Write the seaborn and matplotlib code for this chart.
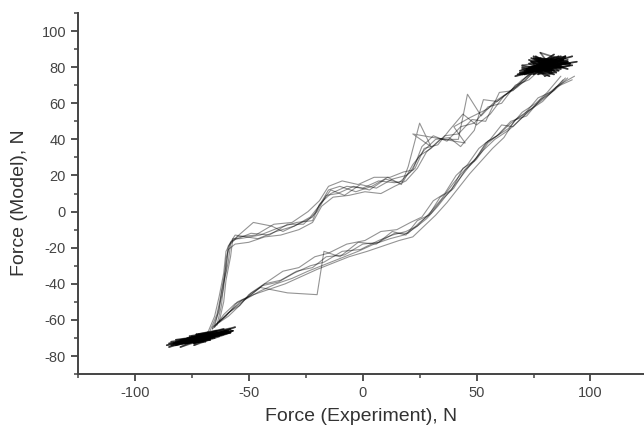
import numpy as np
import pandas as pd
import seaborn as sns
import matplotlib.pyplot as plt
from matplotlib.ticker import MultipleLocator

# rising branch of the loop, one list per cycle
upper_x = [
    [-66, -63, -62, -60, -59, -57, -49, -41, -33, -26, -20, -16, -11, -4, 3, 10, 16, 21, 25, 30, 36, 42, 48, 54, 60, 66, 72, 78],
    [-64, -62, -61, -59, -58, -55, -47, -39, -31, -24, -19, -15, -9, -2, 5, 12, 18, 22, 26, 31, 37, 43, 49, 55, 61, 67, 73, 80],
    [-68, -65, -63, -61, -60, -58, -48, -40, -35, -25, -22, -15, -10, -3, 4, 11, 17, 20, 25, 30, 22, 45, 40, 47, 55, 62, 68, 74, 81],
    [-65, -63, -61, -60, -58, -56, -46, -38, -30, -23, -18, -14, -8, -1, 6, 13, 19, 23, 27, 33, 38, 44, 50, 56, 62, 68, 74, 79],
    [-67, -64, -62, -60, -59, -56, -50, -43, -36, -28, -22, -18, -13, -6, 1, 8, 14, 19, 24, 28, 34, 42, 46, 52, 58, 64, 70, 76],
    [-63, -61, -60, -58, -57, -54, -45, -37, -29, -22, -19, -14, -7, 0, 7, 14, 18, 22, 27, 32, 38, 43, 49, 53, 59, 66, 71, 77],
]
upper_y = [
    [-65, -55, -44, -30, -19, -16, -12, -13, -7, -7, 0, 9, 10, 14, 12, 18, 16, 22, 31, 35, 42, 43, 51, 50, 66, 67, 75, 80],
    [-63, -52, -40, -28, -18, -14, -13, -7, -6, 0, 6, 14, 17, 15, 19, 19, 22, 23, 36, 42, 39, 47, 49, 58, 60, 70, 73, 81],
    [-67, -58, -47, -34, -22, -17, -6, -8, -11, -5, -3, 12, 14, 11, 14, 19, 15, 25, 49, 36, 43, 38, 47, 52, 57, 64, 70, 77, 82],
    [-64, -53, -42, -26, -17, -13, -15, -11, -8, -3, 5, 12, 9, 15, 13, 18, 20, 24, 35, 37, 45, 54, 48, 54, 64, 69, 76, 79],
    [-66, -57, -45, -33, -21, -18, -17, -14, -13, -10, -6, 3, 8, 9, 11, 10, 14, 17, 24, 33, 40, 40, 65, 53, 61, 66, 73, 78],
    [-61, -50, -38, -25, -15, -15, -13, -9, -6, -5, 4, 10, 14, 13, 17, 16, 17, 26, 34, 40, 41, 36, 45, 62, 61, 68, 72, 80],
]

# falling branch of the loop
lower_x = [
    [90, 84, 77, 71, 65, 60, 55, 50, 45, 40, 35, 30, 25, 20, 14, 7, 0, -8, -16, -22, -29, -36, -43, -50, -55, -60, -65],
    [92, 85, 79, 73, 66, 61, 56, 51, 46, 41, 36, 31, 26, 21, 15, 8, 1, -7, -15, -21, -28, -35, -42, -49, -54, -59, -64],
    [87, 81, 76, 70, 64, 59, 54, 49, 44, 39, 34, 29, 24, 19, 13, 6, -2, -10, -17, -20, -33, -45, -50, -54, -59, -66],
    [89, 83, 78, 72, 65, 59, 55, 50, 44, 40, 34, 30, 24, 19, 13, 7, -1, -9, -17, -23, -30, -37, -44, -51, -56, -61, -65],
    [93, 86, 80, 74, 67, 62, 57, 52, 47, 42, 37, 32, 27, 22, 16, 9, 2, -6, -14, -20, -27, -34, -41, -48, -53, -58, -63],
    [88, 82, 76, 70, 64, 58, 53, 48, 43, 38, 33, 28, 23, 18, 12, 5, -2, -10, -18, -24, -31, -38, -45, -52, -57, -62, -66],
]
lower_y = [
    [74, 67, 63, 54, 49, 43, 38, 29, 23, 13, 7, -1, -6, -12, -12, -17, -18, -24, -25, -31, -33, -38, -40, -47, -50, -58, -63],
    [73, 69, 61, 56, 47, 48, 40, 35, 26, 20, 10, 6, -3, -6, -10, -11, -16, -18, -23, -25, -31, -33, -39, -45, -52, -56, -62],
    [75, 66, 60, 55, 46, 42, 38, 28, 24, 12, 8, -2, -5, -13, -11, -18, -17, -25, -22, -46, -45, -42, -46, -52, -58, -64],
    [74, 66, 62, 53, 50, 42, 39, 30, 22, 16, 6, 0, -8, -11, -13, -16, -21, -22, -28, -30, -34, -39, -41, -48, -51, -57, -64],
    [75, 70, 64, 57, 51, 41, 35, 28, 21, 13, 5, -2, -8, -14, -16, -19, -22, -25, -29, -32, -36, -40, -43, -46, -49, -55, -61],
    [73, 65, 59, 52, 45, 40, 34, 27, 19, 11, 3, -4, -9, -13, -15, -18, -22, -26, -30, -33, -37, -40, -44, -49, -54, -60, -65],
]

# dwell at the upper turning point
top_x = [72, 88, 75, 84, 70, 90, 78, 82, 73, 86, 77, 91, 69, 83, 76, 87, 80, 74, 89, 71,
         85, 79, 92, 73, 81, 68, 86, 77, 90, 75, 83, 70, 88, 78, 84, 72, 91, 76, 82, 74,
         87, 80, 69, 85, 77, 89, 73, 83, 79, 94, 71, 86, 75, 81, 67, 88, 78, 84, 72, 90,
         76, 82, 70, 87, 79, 85, 74, 91, 77, 83, 69, 89, 75, 81, 73, 86, 80, 92, 71, 84,
         78, 88, 74, 82, 70, 90, 76, 85, 79, 83, 72, 87, 77, 89, 75, 81, 73, 86, 80, 84]
top_y = [78, 84, 80, 76, 79, 83, 85, 77, 82, 86, 76, 81, 77, 78, 86, 79, 75, 83, 85, 76,
         77, 82, 86, 78, 84, 76, 80, 83, 79, 85, 77, 81, 84, 88, 78, 79, 82, 85, 80, 83,
         86, 79, 76, 84, 81, 82, 77, 85, 80, 83, 78, 82, 86, 79, 75, 84, 80, 85, 77, 83,
         79, 75, 80, 81, 78, 84, 80, 82, 85, 79, 78, 86, 76, 83, 80, 78, 84, 81, 77, 87,
         82, 80, 85, 80, 76, 84, 79, 83, 81, 78, 79, 80, 77, 86, 82, 79, 84, 81, 78, 83]

# dwell at the lower turning point
bottom_x = [-76, -60, -82, -65, -72, -57, -85, -68, -78, -62, -71, -80, -64, -74, -58, -83, -67, -73, -61, -79,
            -69, -86, -63, -75, -59, -81, -66, -72, -56, -77, -70, -84, -62, -74, -60, -79, -68, -76, -64, -82,
            -71, -58, -78, -66, -73, -61, -85, -69, -75, -63, -80, -67, -72, -57, -83, -65, -77, -60, -74, -68,
            -81, -62, -70, -59, -79, -66, -76, -63, -84, -71, -73, -58, -78, -67, -75, -61, -82, -69, -72, -64,
            -80, -66, -74, -60, -77, -68, -71, -63, -79, -70]
bottom_y = [-72, -66, -72, -70, -68, -66, -75, -67, -73, -67, -68, -72, -68, -74, -67, -73, -71, -68, -65, -72,
            -70, -74, -67, -71, -66, -73, -69, -72, -64, -70, -72, -72, -67, -73, -67, -72, -71, -69, -66, -74,
            -71, -67, -73, -70, -69, -68, -73, -72, -70, -68, -75, -68, -70, -66, -73, -69, -72, -67, -71, -70,
            -72, -68, -69, -67, -73, -69, -70, -69, -74, -72, -68, -65, -73, -71, -69, -67, -71, -70, -72, -68,
            -71, -68, -73, -66, -72, -70, -69, -68, -71, -69]

frames = []
for i, (xs, ys) in enumerate(zip(upper_x, upper_y)):
    frames.append(pd.DataFrame({'exp': xs, 'model': ys, 'trace': f'up{i}'}))
for i, (xs, ys) in enumerate(zip(lower_x, lower_y)):
    frames.append(pd.DataFrame({'exp': xs, 'model': ys, 'trace': f'down{i}'}))
branches = pd.concat(frames, ignore_index=True)

# dwell traces split into single segments so that crossings darken
rows = []
for name, xs, ys in [('top', top_x, top_y), ('bottom', bottom_x, bottom_y)]:
    for k in range(len(xs) - 1):
        rows.append({'exp': xs[k], 'model': ys[k], 'trace': f'{name}{k}'})
        rows.append({'exp': xs[k + 1], 'model': ys[k + 1], 'trace': f'{name}{k}'})
dwell = pd.DataFrame(rows)

sns.set_theme(style='white')
plt.rcParams['font.family'] = ['Liberation Sans', 'DejaVu Sans']
plt.rcParams['axes.unicode_minus'] = False

fig = plt.figure(figsize=(6.44, 4.33), dpi=100)
ax = fig.add_axes([0.121, 0.136, 0.879, 0.834])

sns.lineplot(data=branches, x='exp', y='model', units='trace', estimator=None, sort=False,
             color='black', alpha=0.42, linewidth=0.8, ax=ax)
sns.lineplot(data=dwell, x='exp', y='model', units='trace', estimator=None, sort=False,
             color='black', alpha=0.55, linewidth=1.2, ax=ax)

ax.set_xlim(-125, 123.5)
ax.set_ylim(-90, 110)
ax.xaxis.set_major_locator(MultipleLocator(50))
ax.xaxis.set_minor_locator(MultipleLocator(25))
ax.yaxis.set_minor_locator(MultipleLocator(10))
ax.set_yticks(np.arange(-80, 101, 20))

sns.despine(ax=ax)
for side in ['left', 'bottom']:
    ax.spines[side].set_color('#444444')
    ax.spines[side].set_linewidth(1.4)
ax.tick_params(which='major', direction='out', length=5, width=1.3, color='#444444',
               labelsize=10.5, labelcolor='#444444', left=True, bottom=True)
ax.tick_params(which='minor', direction='out', length=3, width=1.1, color='#444444',
               left=True, bottom=True)

ax.set_xlabel('Force (Experiment), N', fontsize=14, color='#333333')
ax.set_ylabel('Force (Model), N', fontsize=14, color='#333333')
ax.xaxis.set_label_coords(0.5, -0.095)
ax.yaxis.set_label_coords(-0.088, 0.476)

fig.savefig('out.png', dpi=100)
